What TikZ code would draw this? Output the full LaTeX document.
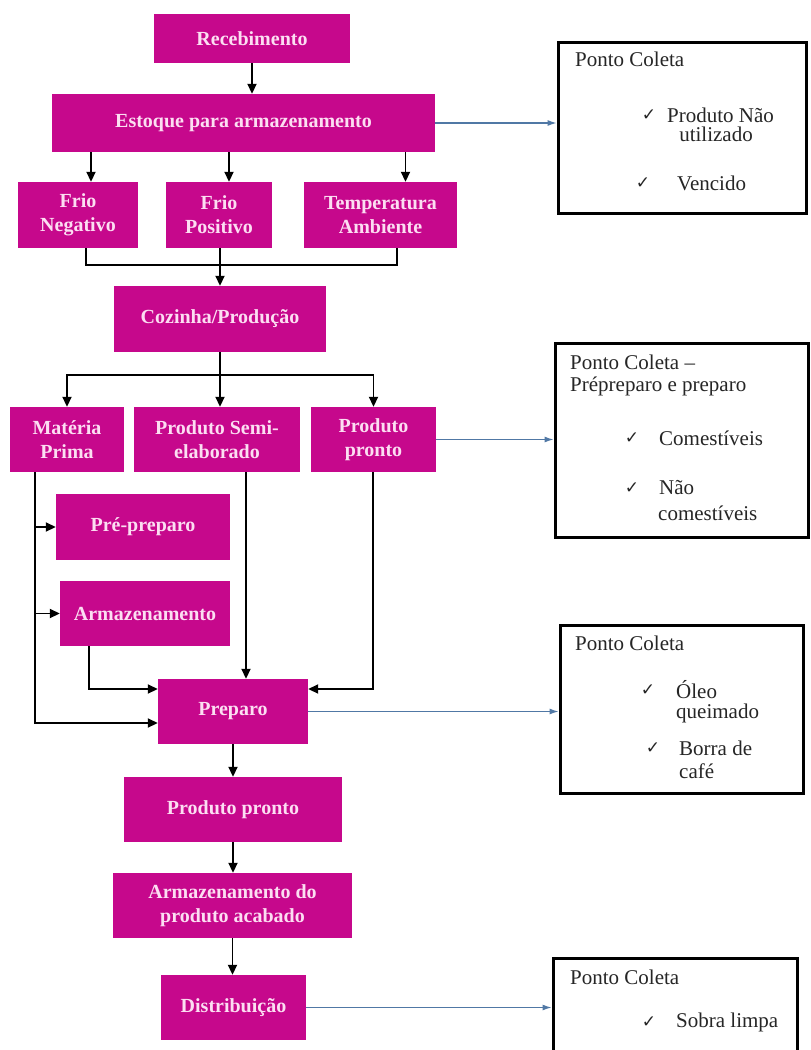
\documentclass[tikz,border=0pt]{standalone}
\usepackage{fontspec}
\setmainfont{Liberation Serif}
\newfontfamily\symfont{DejaVu Sans}
\usetikzlibrary{arrows.meta,calc}
\definecolor{mag}{RGB}{198,8,140}
\definecolor{pinktxt}{RGB}{252,222,242}
\definecolor{bluearr}{RGB}{80,120,165}
\begin{document}
\begin{tikzpicture}[x=1pt,y=-1pt,
 proc/.style={rectangle, fill=mag, text=pinktxt, font=\bfseries\fontsize{20}{24}\selectfont, align=center, inner sep=0pt},
 arr/.style={-{Triangle[length=10pt,width=9pt]}, line width=1.8pt},
 ln/.style={line width=1.8pt},
 barr/.style={-{Latex[length=9pt,width=6pt]}, bluearr, line width=1.1pt},
 cbox/.style={draw=black, line width=3pt, fill=white, inner sep=0pt},
 ctext/.style={font=\fontsize{21}{23}\selectfont, anchor=west, inner sep=0pt, text=black!85},
 chk/.style={font=\symfont\fontsize{17}{19}\selectfont, inner sep=0pt, text=black!85}]
\useasboundingbox (0,0) rectangle (811,1050);
\clip (0,0) rectangle (811,1050);
\fill[white] (0,0) rectangle (811,1050);

% process boxes
\node[proc, minimum width=196pt, minimum height=49pt] (rec) at (252,38.5) {Recebimento};
\node[proc, minimum width=383pt, minimum height=58pt] (est) at (243.5,123) {Estoque para armazenamento};
\node[proc, minimum width=120pt, minimum height=66pt] (fneg) at (78,215) {Frio\\Negativo};
\node[proc, minimum width=106pt, minimum height=66pt] (fpos) at (219,215) {Frio\\Positivo};
\node[proc, minimum width=153pt, minimum height=66pt] (tamb) at (380.5,215) {Temperatura\\Ambiente};
\node[proc, minimum width=212pt, minimum height=66pt] (coz) at (220,319) {Cozinha/Produção};
\node[proc, minimum width=114pt, minimum height=65pt] (mp) at (67,439.5) {Matéria\\Prima};
\node[proc, minimum width=166pt, minimum height=65pt] (semi) at (217,439.5) {Produto Semi-\\elaborado};
\node[proc, minimum width=125pt, minimum height=65pt] (pp) at (373.5,439.5) {Produto\\pronto};
\node[proc, minimum width=174pt, minimum height=66pt] (pre) at (143,527) {Pré-preparo};
\node[proc, minimum width=170pt, minimum height=65pt] (arm) at (145,613.5) {Armazenamento};
\node[proc, minimum width=150pt, minimum height=65pt] (prep) at (233,711.5) {Preparo};
\node[proc, minimum width=218pt, minimum height=65pt] (pp2) at (233,809.5) {Produto pronto};
\node[proc, minimum width=239pt, minimum height=65pt] (acab) at (232.5,905.5) {Armazenamento do\\produto acabado};
\node[proc, minimum width=145pt, minimum height=65pt] (dist) at (233.5,1007.5) {Distribuição};

% collection boxes
\node[cbox, minimum width=248pt, minimum height=171pt] (c1) at (682,127.5) {};
\node[cbox, minimum width=253pt, minimum height=194pt] (c2) at (681.5,440) {};
\node[cbox, minimum width=243pt, minimum height=168pt] (c3) at (681.5,709) {};
\node[cbox, minimum width=244pt, minimum height=102pt] (c4) at (675,1009) {};

% texts box 1
\node[ctext] (t1a) at (575,59) {Ponto Coleta};
\node[chk] (k1a) at (649,115) {✓};
\node[ctext] (t1b) at (667,115) {Produto Não};
\node[ctext, anchor=center] (t1c) at (716,134) {utilizado};
\node[chk] (k1b) at (643,183) {✓};
\node[ctext] (t1d) at (677,183) {Vencido};
% box 2
\node[ctext] (t2a) at (570,362) {Ponto Coleta –};
\node[ctext] (t2b) at (570,386) {Prépreparo e preparo};
\node[chk] (k2a) at (632,438) {✓};
\node[ctext] (t2c) at (659,438) {Comestíveis};
\node[chk] (k2b) at (632,488) {✓};
\node[ctext] (t2d) at (659,488) {Não};
\node[ctext] (t2e) at (658,513) {comestíveis};
% box 3
\node[ctext] (t3a) at (575,643) {Ponto Coleta};
\node[chk] (k3a) at (648,690) {✓};
\node[ctext] (t3b) at (676,690) {Óleo};
\node[ctext] (t3c) at (676,713) {queimado};
\node[chk] (k3b) at (653,748) {✓};
\node[ctext] (t3d) at (679,748) {Borra de};
\node[ctext] (t3e) at (679,771) {café};
% box 4
\node[ctext] (t4a) at (570,977) {Ponto Coleta};
\node[chk] (k4a) at (649,1022) {✓};
\node[ctext] (t4b) at (676,1022) {Sobra limpa};

% connectors
\draw[arr] (rec.south) -- (rec.south |- est.north);
\draw[arr] ([xshift=13pt]fneg.north |- est.south) -- ([xshift=13pt]fneg.north);
\draw[arr] ([xshift=10pt]fpos.north |- est.south) -- ([xshift=10pt]fpos.north);
\draw[arr] ([xshift=25pt]tamb.north |- est.south) -- ([xshift=25pt]tamb.north);

\coordinate (m1) at (220,265);
\draw[ln] ([xshift=8pt]fneg.south) |- (m1) -| ([xshift=16.5pt]tamb.south);
\draw[arr] (fpos.south -| coz.north) -- (coz.north);

\coordinate (s1) at (220,375);
\draw[ln] (coz.south) -- (s1);
\draw[arr] (s1) -| (mp.north);
\draw[arr] (s1) -| (pp.north);
\draw[arr] (s1) -- (s1 |- semi.north);

\coordinate (ml) at (35,723);
\draw[arr] ([xshift=-32pt]mp.south) -- (ml) -- (ml -| prep.west);
\draw[arr] (ml |- pre.west) -- (pre.west);
\draw[arr] (ml |- arm.west) -- (arm.west);

\coordinate (al) at (89,689);
\draw[arr] (al |- arm.south) -- (al) -- (al -| prep.west);
\draw[arr] ([xshift=29pt]semi.south) -- ([xshift=29pt]semi.south |- prep.north);
\coordinate (pl) at (373,689);
\draw[arr] (pl |- pp.south) -- (pl) -- (pl -| prep.east);

\draw[arr] (prep.south) -- (prep.south |- pp2.north);
\draw[arr] (pp2.south) -- (pp2.south |- acab.north);
\draw[arr] (acab.south) -- (acab.south |- dist.north);

\draw[barr] (est.east) -- (est.east -| c1.west);
\draw[barr] (pp.east) -- (pp.east -| c2.west);
\draw[barr] (prep.east) -- (prep.east -| c3.west);
\draw[barr] (dist.east) -- (dist.east -| c4.west);
\end{tikzpicture}
\end{document}
